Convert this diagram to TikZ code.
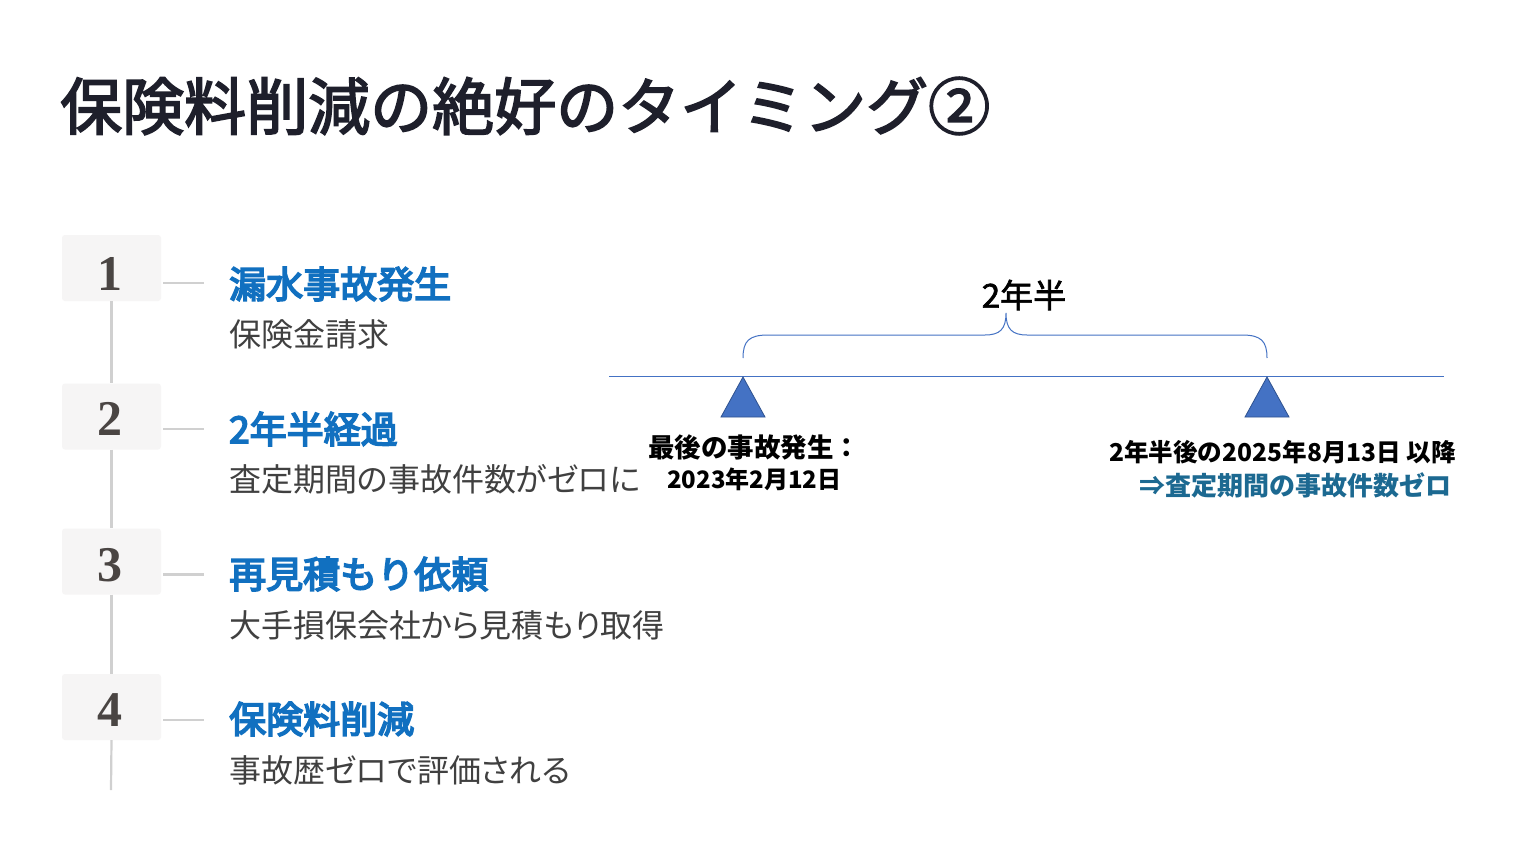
\documentclass[tikz,border=0pt]{standalone}
\usepackage{fontspec}
\setmainfont{Noto Sans CJK JP}
\newfontfamily\numfont{Liberation Serif}
\newfontfamily\titlefont{Noto Sans CJK JP}[RawFeature={embolden=2.8}]
\newfontfamily\spanfont{Noto Sans CJK JP}[RawFeature={embolden=2}]
\newfontfamily\headfont{Noto Sans CJK JP}[RawFeature={embolden=4.5}]
\newfontfamily\subfont{Noto Sans CJK JP}[RawFeature=+palt]
\definecolor{titlec}{RGB}{30,31,43}
\definecolor{headc}{RGB}{17,112,192}
\definecolor{subc}{RGB}{64,64,64}
\definecolor{boxc}{RGB}{246,245,245}
\definecolor{numc}{RGB}{74,69,67}
\definecolor{linec}{RGB}{208,208,208}
\definecolor{tlc}{RGB}{68,114,196}
\definecolor{tribord}{RGB}{47,82,143}
\definecolor{notec}{RGB}{28,105,145}
\tikzset{
  numbox/.style={fill=boxc, rounded corners=3pt, minimum width=99pt, minimum height=66pt, inner sep=0pt},
  numtxt/.style={font=\numfont\fontsize{50}{50}\selectfont\bfseries, text=numc, anchor=base, inner sep=0pt},
  head/.style={font=\headfont\fontsize{37}{40}\selectfont, text=headc, anchor=west, inner sep=0pt},
  sub/.style={font=\subfont\fontsize{32}{36}\selectfont, text=subc, anchor=west, inner sep=0pt},
  vline/.style={draw=linec, line width=2.2pt},
  tline/.style={draw=tlc, line width=1pt},
  tri/.style={fill=tlc, draw=tribord, line width=0.8pt},
  lab/.style={font=\fontsize{24}{28}\selectfont\bfseries, text=black, anchor=west, inner sep=0pt},
}
\begin{document}
\begin{tikzpicture}[x=1pt,y=-1pt]
\useasboundingbox (0,0) rectangle (1536,864);
\fill[white] (0,0) rectangle (1536,864);
% title
\node[font=\titlefont\fontsize{62}{66}\selectfont, text=titlec, anchor=west, inner sep=0pt] (title) at (60,106) {保険料削減の絶好のタイミング②};
% number boxes
\node[numbox] (b1) at (111.5,268) {};
\node[numbox] (b2) at (111.5,416.5) {};
\node[numbox] (b3) at (111.5,561.5) {};
\node[numbox] (b4) at (111.5,707) {};
\node[numtxt] (n1) at (110,290) {1};
\node[numtxt] (n2) at (110,435) {2};
\node[numtxt] (n3) at (110,581) {3};
\node[numtxt] (n4) at (110,726) {4};
\coordinate (vend) at (111,790);
\draw[vline] (b1.south) -- (b2.north);
\draw[vline] (b2.south) -- (b3.north);
\draw[vline] (b3.south) -- (b4.north);
\draw[vline] (b4.south) -- (vend);
% headings
\node[head] (h1) at (229,284) {漏水事故発生};
\node[sub]  (s1) at (229,334) {保険金請求};
\node[head] (h2) at (229,429) {2年半経過};
\node[sub]  (s2) at (229,479) {査定期間の事故件数がゼロに};
\node[head] (h3) at (229,574) {再見積もり依頼};
\node[sub]  (s3) at (229,625) {大手損保会社から見積もり取得};
\node[head] (h4) at (229,719) {保険料削減};
\node[sub]  (s4) at (229,770) {事故歴ゼロで評価される};
% horizontal ticks
\foreach \i/\y in {1/283,2/429,3/574.5,4/720}{
  \coordinate (ta\i) at (163,\y);
  \coordinate (tb\i) at (204,\y);
  \draw[vline] (ta\i) -- (tb\i);
}
% timeline
\coordinate (tl0) at (609,376);
\coordinate (tl1) at (1444,376);
\draw[tline] (tl0) -- (tl1);
\coordinate (p1) at (743,377);
\coordinate (p2) at (1267,377);
\draw[tri] (p1) -- ++(22,40) -- ++(-44,0) -- cycle;
\draw[tri] (p2) -- ++(22,40) -- ++(-44,0) -- cycle;
% brace
\draw[tline] (743,358) .. controls (743,341) and (749,335) .. (768,335) -- (985,335)
  .. controls (1000,335) and (1006,329) .. (1006,313)
  .. controls (1006,329) and (1012,335) .. (1027,335) -- (1242,335)
  .. controls (1261,335) and (1267,341) .. (1267,358);
\node[font=\spanfont\fontsize{33}{36}\selectfont, anchor=center, inner sep=0pt] (span) at (1024,295) {2年半};
% labels
\node[lab, font=\fontsize{26.5}{30}\selectfont\bfseries] (l1a) at (648,447) {最後の事故発生：};
\node[lab] (l1b) at (667,479) {2023年2月12日};
\node[lab, font=\fontsize{24.6}{28}\selectfont\bfseries] (l2a) at (1109,452) {2年半後の2025年8月13日 以降};
\node[lab, font=\fontsize{26}{30}\selectfont\bfseries, text=notec] (l2b) at (1139,485) {⇒査定期間の事故件数ゼロ};
\end{tikzpicture}
\end{document}
